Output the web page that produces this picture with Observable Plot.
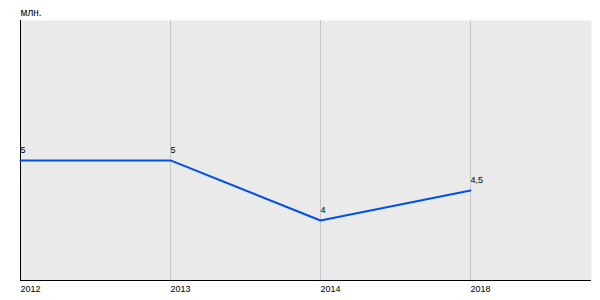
<!DOCTYPE html>
<html>
<head>
<meta charset="utf-8">
<script src="https://cdn.jsdelivr.net/npm/d3@7"></script>
<script src="https://cdn.jsdelivr.net/npm/@observablehq/plot@0.6"></script>
<style>
  html, body { margin: 0; padding: 0; background: #fff; }
  svg { display: block; }
</style>
</head>
<body>
<div id="chart"></div>
<script>
const years = ["2012", "2013", "2014", "2018"];
const values = [5, 5, 4, 4.5];
const unitLabel = "млн.";
const yDomain = [3, 7.33];

const data = years.map((y, i) => ({year: y, value: values[i]}));
const fmt = v => String(v).replace(".", ",");

const chart = Plot.plot({
  width: 600,
  height: 300,
  marginLeft: 20,
  marginRight: 9,
  marginTop: 20,
  marginBottom: 20,
  style: {fontFamily: "'Liberation Sans', Arial, sans-serif", fontSize: "9px", background: "#fff"},
  x: {type: "point", domain: years, range: [20, 470], padding: 0, label: null},
  y: {domain: yDomain, axis: null},
  marks: [
    Plot.frame({fill: "#eaeaea", stroke: null}),
    Plot.ruleX(years, {x: d => d, stroke: "#c6c6c6", strokeWidth: 1}),
    Plot.ruleX([years[0]], {x: d => d, stroke: "#000", strokeWidth: 1}),
    Plot.ruleY([yDomain[0]], {y: d => d, stroke: "#000", strokeWidth: 1}),
    Plot.axisX({tickSize: 0, tickPadding: 5, textAnchor: "start", fill: "#000", fontSize: 9, label: null}),
    Plot.line(data, {x: "year", y: "value", stroke: "#0050e6", strokeWidth: 2}),
    Plot.text(data, {x: "year", y: "value", text: d => fmt(d.value), textAnchor: "start", lineAnchor: "middle", dx: 0, dy: -10, fill: "#000", fontSize: 9}),
    Plot.text([unitLabel], {frameAnchor: "top-left", text: d => d, textAnchor: "start", lineAnchor: "middle", dy: -8, fill: "#000", fontSize: 10})
  ]
});
document.getElementById("chart").appendChild(chart);
</script>
</body>
</html>
